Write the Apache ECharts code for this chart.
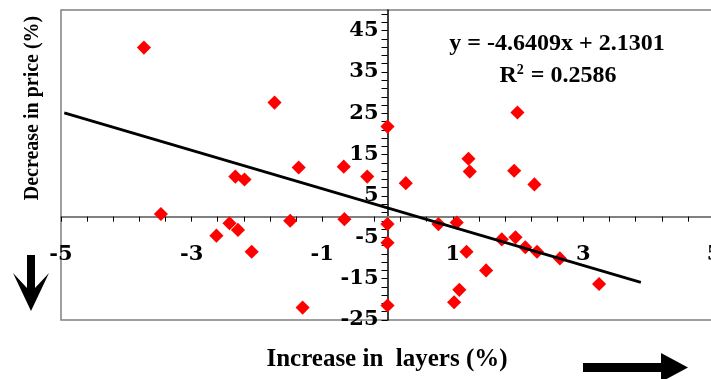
<!DOCTYPE html>
<html>
<head>
<meta charset="utf-8">
<script src="https://cdn.jsdelivr.net/npm/echarts@6/dist/echarts.min.js"></script>
<style>
html,body{margin:0;padding:0;background:#fff;}
#c{width:711px;height:379px;}
</style>
</head>
<body>
<div id="c"></div>
<script>
// Data
const pointsX = [-3.73, -1.73, -2.33, -2.19, -1.36, -0.67, 0, 1.99, 1.24, 1.26, 1.94, 2.25, -0.31, 0.28,
  -3.47, -2.62, -2.42, -2.29, -2.08, -1.49, -1.30, -0.66, 0, 0, 0, 0.78, 1.06, 1.21, 1.51, 1.10, 1.02,
  1.75, 1.96, 2.11, 2.29, 2.64, 3.24];
const pointsY = [40.9, 27.6, 9.7, 9.0, 11.9, 12.1, 21.8, 25.2, 14.0, 10.9, 11.1, 7.8, 9.7, 8.1,
  0.65, -4.6, -1.6, -3.2, -8.5, -1.0, -22.0, -0.6, -1.8, -6.3, -21.5, -1.8, -1.4, -8.5, -13.0, -17.7, -20.7,
  -5.5, -5.0, -7.4, -8.5, -10.1, -16.3];
const trendX = [-4.95, 3.88];
const trendY = [25.1, -15.9];
const xLabelValues = [-5, -3, -1, 1, 3, 5];
const xTickValues = [-5, -4.6, -4.2, -3.8, -3.4, -3, -2.6, -2.2, -1.8, -1.4, -1, -0.6, -0.2,
  0.2, 0.6, 1, 1.4, 1.8, 2.2, 2.6, 3, 3.4, 3.8, 4.2, 4.6, 5];
const yLabelValues = [-25, -15, -5, 5, 15, 25, 35, 45];
const yTickValues = [-25, -23, -21, -19, -17, -15, -13, -11, -9, -7, -5, -3, -1, 1, 3, 5, 7, 9, 11, 13, 15,
  17, 19, 21, 23, 25, 27, 29, 31, 33, 35, 37, 39, 41, 43, 45, 47, 49];
const equationText = 'y = -4.6409x + 2.1301';
const r2Value = '0.2586';
const xTitle = 'Increase in  layers (%)';
const yTitle = 'Decrease in price (%)';

const X_MIN = -5, X_MAX = 5, Y_MIN = -25, Y_MAX = 50;
const GRID = {left: 61, top: 10, width: 653, height: 310};

const SERIF = '"Liberation Serif", "Times New Roman", serif';
const LABEL_FONT = '"DejaVu Serif", serif';
const scatterData = pointsX.map((x, i) => [x, pointsY[i]]);
const trendData = trendX.map((x, i) => [x, trendY[i]]);

// axes cross at zero: shift each axis inward to the zero of the other axis
const xAxisOffset = -GRID.height * (0 - Y_MIN) / (Y_MAX - Y_MIN);
const yAxisOffset = -GRID.width * (0 - X_MIN) / (X_MAX - X_MIN);

const chart = echarts.init(document.getElementById('c'), null, {renderer: 'canvas'});
chart.setOption({
  animation: false,
  backgroundColor: '#fff',
  grid: {
    left: GRID.left, top: GRID.top, width: GRID.width, height: GRID.height,
    show: true, borderColor: '#808080', borderWidth: 1.5,
    outerBoundsMode: 'none', containLabel: false
  },
  xAxis: {
    type: 'value', min: X_MIN, max: X_MAX, position: 'bottom', offset: xAxisOffset,
    axisLine: {onZero: false, lineStyle: {color: '#808080', width: 2}},
    axisTick: {show: true, inside: false, length: 5, customValues: xTickValues, lineStyle: {color: '#000', width: 1}},
    axisLabel: {customValues: xLabelValues, margin: 27, fontFamily: LABEL_FONT, fontWeight: 'bold', fontSize: 21, color: '#000', hideOverlap: false},
    splitLine: {show: false}
  },
  yAxis: {
    type: 'value', min: Y_MIN, max: Y_MAX, position: 'left', offset: yAxisOffset,
    axisLine: {onZero: false, lineStyle: {color: '#000', width: 1.5}},
    axisTick: {show: true, inside: false, length: 6, customValues: yTickValues, lineStyle: {color: '#000', width: 1}},
    axisLabel: {customValues: yLabelValues, margin: 9, fontFamily: LABEL_FONT, fontWeight: 'bold', fontSize: 21, color: '#000', hideOverlap: false},
    splitLine: {show: false}
  },
  series: [
    {
      type: 'scatter', data: scatterData,
      symbol: 'rect', symbolSize: 10, symbolRotate: 45,
      itemStyle: {color: '#ff0000', opacity: 1}, z: 2
    },
    {
      type: 'line', data: trendData, showSymbol: false, symbol: 'none',
      lineStyle: {color: '#000', width: 2.7}, z: 3
    }
  ],
  graphic: [
    {type: 'text', x: 557, y: 44, style: {text: equationText, font: 'bold 24px ' + SERIF, fill: '#000', align: 'center', verticalAlign: 'middle'}},
    {type: 'text', x: 558, y: 76, style: {
      text: '{a|R}{s|2}{a| = ' + r2Value + '}',
      align: 'center', verticalAlign: 'middle',
      rich: {
        a: {font: 'bold 24px ' + SERIF, fill: '#000'},
        s: {font: 'bold 14px ' + SERIF, fill: '#000', verticalAlign: 'top', padding: [0, 1, 12, 0]}
      }
    }},
    {type: 'text', x: 33, y: 108, rotation: Math.PI / 2, style: {text: yTitle, font: 'bold 20px ' + SERIF, fill: '#000', align: 'center', verticalAlign: 'middle'}},
    {type: 'text', x: 387, y: 360, style: {text: xTitle, font: 'bold 25px ' + SERIF, fill: '#000', align: 'center', verticalAlign: 'middle'}},
    {type: 'polygon', shape: {points: [[27, 255], [35, 255], [35, 288], [49, 273], [31, 311], [13, 273], [27, 288]]}, style: {fill: '#000'}},
    {type: 'polygon', shape: {points: [[583, 363], [661, 363], [661, 353], [688, 367.5], [661, 382], [661, 372], [583, 372]]}, style: {fill: '#000'}}
  ]
});
</script>
</body>
</html>
